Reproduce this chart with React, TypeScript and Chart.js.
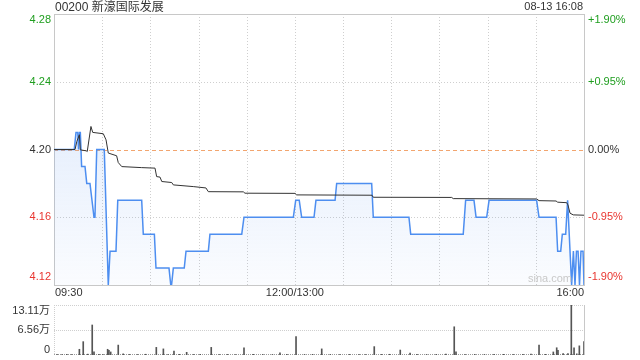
import React, { useEffect, useRef } from "react";
import { Chart, registerables } from "chart.js";

Chart.register(...registerables);

const titleText = "00200 新濠国际发展";
const stampText = "08-13 16:08";
const watermark = "sina.com";
const prevClose = 4.2;
const priceMin = 4.12;
const priceMax = 4.28;
const priceTicks = [4.28, 4.24, 4.2, 4.16, 4.12];
const pctTicks = ["+1.90%", "+0.95%", "0.00%", "-0.95%", "-1.90%"];
const timeLabels = ["09:30", "12:00/13:00", "16:00"];
const timeLabelMinutes = [0, 150, 330];
const totalMinutes = 330;
const gridMinutes = [30, 60, 90, 120, 150, 180, 210, 240, 270, 300];

// price (blue) line: minutes since 09:30 and price
const priceMinutes = [
  0, 12.6, 13.7, 14.8, 15.3, 15.9, 16.4, 17.2, 19.3, 20.4, 22.4, 24.9, 25.5, 26.6, 31.3, 33.8, 34.9,
  38.6, 39.7, 54.6, 55.6, 62.5, 63.5, 71.6, 72.7, 73.2, 74.3, 81.1, 82.2, 96.1, 97.1, 116.9, 118.3,
  149.0, 150.5, 152.7, 154.2, 161.9, 163.1, 175.0, 176.0, 197.8, 198.8, 221.0, 222.1, 254.8, 256.3,
  261.5, 262.8, 269.4, 270.9, 300.5, 302.0, 312.6, 313.6, 315.5, 316.5, 318.6, 319.8, 322.3, 323.4,
  324.4, 325.3, 326.3, 327.2, 328.1, 329.4, 330,
];
const priceValues = [
  4.2, 4.2, 4.21, 4.21, 4.2, 4.21, 4.21, 4.19, 4.19, 4.18, 4.18, 4.16, 4.16, 4.2, 4.2, 4.12, 4.14,
  4.14, 4.17, 4.17, 4.15, 4.15, 4.13, 4.13, 4.12, 4.12, 4.13, 4.13, 4.14, 4.14, 4.15, 4.15, 4.16,
  4.16, 4.17, 4.17, 4.16, 4.16, 4.17, 4.17, 4.18, 4.18, 4.16, 4.16, 4.15, 4.15, 4.17,
  4.17, 4.16, 4.16, 4.17, 4.17, 4.16, 4.16, 4.14, 4.14, 4.15, 4.15, 4.17, 4.12, 4.14,
  4.12, 4.14, 4.14, 4.12, 4.14, 4.14, 4.12,
];

// average price (black) line
const avgMinutes = [
  0, 13.1, 14.2, 15.8, 16.4, 20.1, 20.7, 23.0, 24.1, 30.7, 32.4, 33.8, 39.0, 40.0, 42.2, 54.6, 62.9,
  63.9, 66.0, 67.1, 73.3, 74.3, 86.7, 94.6, 96.1, 117.9, 118.9, 150.1, 151.1, 198.0, 198.8, 247.6,
  248.6, 300.5, 302.0, 312.6, 313.6, 319.2, 320.0, 321.3, 323.3, 330,
];
const avgValues = [
  4.2, 4.2, 4.2047, 4.2087, 4.1998, 4.1992, 4.1988, 4.2136, 4.2101, 4.2093, 4.2057, 4.1979, 4.1963,
  4.1923, 4.1899, 4.1893, 4.189, 4.184, 4.1837, 4.1811, 4.1805, 4.1791, 4.1781, 4.1773, 4.1751,
  4.175, 4.1742, 4.1741, 4.1732, 4.173, 4.1718, 4.1717, 4.171, 4.1708, 4.1698, 4.1696, 4.1689,
  4.1686, 4.1673, 4.1624, 4.1614, 4.1612,
];

// volume bars
const volMinutes = [
  2, 5, 8, 11, 15.8, 18.2, 21, 23.8, 24.9, 28, 30.5, 33.4, 34.2, 35.3, 40.0, 43.1, 47, 52, 57, 63.7,
  68.1, 71, 74.7, 78, 82.6, 87, 91, 97.9, 103, 108, 113, 118.3, 124, 130, 136, 140.7, 145, 150.7,
  156, 161, 166.7, 172, 178, 184, 190, 194, 199.4, 204, 209, 215.6, 221.7, 226, 232, 238, 244,
  249.2, 250.3, 256, 262, 268, 274, 280, 286, 292, 297, 302.0, 306, 310.9, 313.0, 313.8, 317, 320,
  322.1, 323.8, 325.5, 327.1, 330,
];
const volValues = [
  1200, 900, 1500, 1100, 15000, 35000, 2200, 78700, 8000, 1800, 1300, 15000, 12000, 8000, 26000,
  3000, 1500, 1200, 2000, 20000, 16000, 1400, 10000, 1800, 7000, 1300, 1600, 20000, 1200, 1500,
  1000, 19000, 1700, 1300, 1100, 6000, 1500, 48000, 1200, 1800, 16000, 1300, 1000, 1500, 1400,
  1100, 22000, 1600, 1900, 13000, 5000, 1500, 1200, 1700, 2200, 74000, 8000, 1300, 1600, 1200,
  1500, 1800, 1300, 1600, 2100, 26000, 1800, 8000, 19000, 12000, 3500, 4000, 131100, 19000, 3000,
  24000, 35000,
];
const volMax = 131100;
const volTicks = [131100, 65550, 0];
const volTickLabels = ["13.11万", "6.56万", "0"];

const FONT = '11px "Liberation Sans", Arial, "Noto Sans CJK SC", sans-serif';
const TITLE_FONT = '12px "Liberation Sans", Arial, "Noto Sans CJK SC", sans-serif';
const GREEN = "#1f9e1f";
const RED = "#e8352f";
const DARK = "#333333";

function tickColor(v: number) {
  if (Math.abs(v - prevClose) < 1e-9) return DARK;
  return v > prevClose ? GREEN : RED;
}

const mainDecor = {
  id: "mainDecor",
  beforeDatasetsDraw(chart: any) {
    const { ctx, chartArea: a, scales } = chart;
    const x = scales.x;
    const y = scales.y;
    ctx.save();
    ctx.lineWidth = 1;
    ctx.strokeStyle = "#cfcfcf";
    ctx.setLineDash([1, 2]);
    for (const m of gridMinutes) {
      const px = Math.round(x.getPixelForValue(m)) + 0.5;
      ctx.beginPath();
      ctx.moveTo(px, a.top);
      ctx.lineTo(px, a.bottom);
      ctx.stroke();
    }
    for (const v of priceTicks) {
      if (v === priceMax || v === priceMin || v === prevClose) continue;
      const py = Math.round(y.getPixelForValue(v)) + 0.5;
      ctx.beginPath();
      ctx.moveTo(a.left, py);
      ctx.lineTo(a.right, py);
      ctx.stroke();
    }
    ctx.setLineDash([4, 3]);
    ctx.strokeStyle = "#f2a56f";
    const pc = Math.round(y.getPixelForValue(prevClose)) + 0.5;
    ctx.beginPath();
    ctx.moveTo(a.left, pc);
    ctx.lineTo(a.right, pc);
    ctx.stroke();
    ctx.setLineDash([]);
    ctx.strokeStyle = "#c8c8c8";
    ctx.strokeRect(Math.round(a.left) + 0.5, Math.round(a.top) + 0.5, Math.round(a.right - a.left), Math.round(a.bottom - a.top));
    ctx.restore();
  },
  afterDraw(chart: any) {
    const { ctx, chartArea: a, scales } = chart;
    const x = scales.x;
    const y = scales.y;
    ctx.save();
    ctx.font = FONT;
    ctx.textBaseline = "middle";
    priceTicks.forEach((v, i) => {
      let py = y.getPixelForValue(v);
      if (i === 0) py += 6;
      if (i === priceTicks.length - 1) py -= 8;
      ctx.fillStyle = tickColor(v);
      ctx.textAlign = "right";
      ctx.fillText(v.toFixed(2), a.left - 3, py);
      ctx.textAlign = "left";
      ctx.fillText(pctTicks[i], a.right + 4, py);
    });
    ctx.fillStyle = DARK;
    timeLabels.forEach((t, i) => {
      const px = x.getPixelForValue(timeLabelMinutes[i]);
      ctx.textAlign = i === 0 ? "left" : i === timeLabels.length - 1 ? "right" : "center";
      ctx.fillText(t, i === 0 ? px + 1 : px, a.bottom + 8);
    });
    ctx.fillStyle = "#c9c9c9";
    ctx.textAlign = "right";
    ctx.fillText(watermark, a.right - 12, a.bottom - 6);
    ctx.fillStyle = DARK;
    ctx.font = TITLE_FONT;
    ctx.textAlign = "left";
    ctx.fillText(titleText, a.left + 1, 8);
    ctx.font = FONT;
    ctx.textAlign = "right";
    ctx.fillText(stampText, a.right - 1, 7);
    ctx.restore();
  },
};

const volDecor = {
  id: "volDecor",
  beforeDatasetsDraw(chart: any) {
    const { ctx, chartArea: a, scales } = chart;
    const y = scales.y;
    ctx.save();
    ctx.lineWidth = 1;
    ctx.strokeStyle = "#cfcfcf";
    ctx.setLineDash([1, 1]);
    for (const v of [volTicks[0], volTicks[1]]) {
      const py = Math.round(y.getPixelForValue(v)) + 0.5;
      ctx.beginPath();
      ctx.moveTo(a.left, py);
      ctx.lineTo(a.right, py);
      ctx.stroke();
    }
    const lx = Math.round(a.left) + 0.5;
    ctx.beginPath();
    ctx.moveTo(lx, a.top);
    ctx.lineTo(lx, a.bottom);
    ctx.stroke();
    ctx.strokeStyle = "#9a9a9a";
    const by = Math.round(a.bottom) - 0.5;
    ctx.beginPath();
    ctx.moveTo(a.left, by);
    ctx.lineTo(a.right, by);
    ctx.stroke();
    ctx.setLineDash([]);
    ctx.strokeStyle = "#c8c8c8";
    const rx = Math.round(a.right) + 0.5;
    ctx.beginPath();
    ctx.moveTo(rx, a.top);
    ctx.lineTo(rx, a.bottom);
    ctx.stroke();
    ctx.restore();
  },
  afterDraw(chart: any) {
    const { ctx, chartArea: a, scales } = chart;
    const y = scales.y;
    ctx.save();
    ctx.font = FONT;
    ctx.textBaseline = "middle";
    ctx.textAlign = "right";
    ctx.fillStyle = DARK;
    volTicks.forEach((v, i) => {
      let py = y.getPixelForValue(v);
      if (i === 0) py += 6;
      if (i === volTicks.length - 1) py -= 5;
      ctx.fillText(volTickLabels[i], a.left - 4, py);
    });
    ctx.restore();
  },
};

export default function App() {
  const mainRef = useRef<HTMLCanvasElement | null>(null);
  const volRef = useRef<HTMLCanvasElement | null>(null);

  useEffect(() => {
    const priceData = priceMinutes.map((m, i) => ({ x: m, y: priceValues[i] }));
    const avgData = avgMinutes.map((m, i) => ({ x: m, y: avgValues[i] }));
    const volData = volMinutes.map((m, i) => ({ x: m, y: volValues[i] }));

    const main = new Chart(mainRef.current as HTMLCanvasElement, {
      type: "line",
      data: {
        datasets: [
          {
            data: avgData,
            borderColor: "#333333",
            borderWidth: 1,
            pointRadius: 0,
            fill: false,
            tension: 0,
            order: 0,
          },
          {
            data: priceData,
            borderColor: "#4d8ef0",
            borderWidth: 1.5,
            pointRadius: 0,
            tension: 0,
            fill: "start",
            order: 1,
            backgroundColor: (c: any) => {
              const ch = c.chart;
              const area = ch.chartArea;
              if (!area) return "rgba(120,165,240,0.12)";
              const g = ch.ctx.createLinearGradient(0, area.top, 0, area.bottom);
              g.addColorStop(0, "rgba(110,160,240,0.28)");
              g.addColorStop(1, "rgba(110,160,240,0.03)");
              return g;
            },
          },
        ],
      },
      options: {
        animation: false,
        responsive: false,
        events: [],
        layout: { padding: { left: 54, right: 56, top: 14, bottom: 15 } },
        plugins: { legend: { display: false }, tooltip: { enabled: false } },
        scales: {
          x: { type: "linear", min: 0, max: totalMinutes, display: false },
          y: { type: "linear", min: priceMin, max: priceMax, display: false },
        },
      },
      plugins: [mainDecor],
    } as any);

    const vol = new Chart(volRef.current as HTMLCanvasElement, {
      type: "bar",
      data: {
        datasets: [
          {
            data: volData,
            backgroundColor: "#555555",
            borderWidth: 0,
            barThickness: 1,
          },
        ],
      },
      options: {
        animation: false,
        responsive: false,
        events: [],
        layout: { padding: { left: 54, right: 56, top: 5, bottom: 5 } },
        plugins: { legend: { display: false }, tooltip: { enabled: false } },
        scales: {
          x: { type: "linear", min: 0, max: totalMinutes, display: false, offset: false },
          y: { type: "linear", min: 0, max: volMax, display: false },
        },
      },
      plugins: [volDecor],
    } as any);

    return () => {
      main.destroy();
      vol.destroy();
    };
  }, []);

  return (
    <div style={{ position: "absolute", left: 0, top: 0, width: 640, height: 360, background: "#ffffff" }}>
      <canvas ref={mainRef} width={640} height={300} style={{ position: "absolute", left: 0, top: 0, width: 640, height: 300 }} />
      <canvas ref={volRef} width={640} height={60} style={{ position: "absolute", left: 0, top: 300, width: 640, height: 60 }} />
    </div>
  );
}
